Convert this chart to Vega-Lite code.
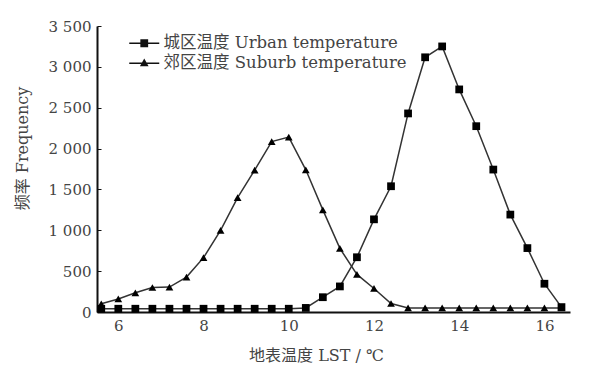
{
  "$schema": "https://vega.github.io/schema/vega-lite/v6.json",
  "width": 473,
  "height": 286,
  "autosize": "none",
  "padding": {"left": 97, "top": 26, "right": 34, "bottom": 58},
  "background": "white",
  "config": {
    "view": {"stroke": null},
    "font": "DejaVu Serif, Noto Sans CJK SC",
    "axis": {"labelFont": "DejaVu Serif, Noto Sans CJK SC", "titleFont": "DejaVu Serif, Noto Sans CJK SC", "labelColor": "#444", "titleColor": "#444", "titleFontWeight": "normal", "labelFontSize": 15, "titleFontSize": 16, "grid": false, "domainColor": "#111", "domainWidth": 2, "tickColor": "#111"},
    "legend": {"labelFont": "DejaVu Serif, Noto Sans CJK SC", "labelColor": "#444", "labelFontSize": 16.5, "labelLimit": 500}
  },
  "data": {"values": [
    {"t": 5.6, "series": "城区温度 Urban temperature", "f": 40},
    {"t": 6.0, "series": "城区温度 Urban temperature", "f": 40},
    {"t": 6.4, "series": "城区温度 Urban temperature", "f": 40},
    {"t": 6.8, "series": "城区温度 Urban temperature", "f": 40},
    {"t": 7.2, "series": "城区温度 Urban temperature", "f": 40},
    {"t": 7.6, "series": "城区温度 Urban temperature", "f": 40},
    {"t": 8.0, "series": "城区温度 Urban temperature", "f": 40},
    {"t": 8.4, "series": "城区温度 Urban temperature", "f": 40},
    {"t": 8.8, "series": "城区温度 Urban temperature", "f": 40},
    {"t": 9.2, "series": "城区温度 Urban temperature", "f": 40},
    {"t": 9.6, "series": "城区温度 Urban temperature", "f": 40},
    {"t": 10.0, "series": "城区温度 Urban temperature", "f": 40},
    {"t": 10.4, "series": "城区温度 Urban temperature", "f": 50},
    {"t": 10.8, "series": "城区温度 Urban temperature", "f": 181},
    {"t": 11.2, "series": "城区温度 Urban temperature", "f": 313},
    {"t": 11.6, "series": "城区温度 Urban temperature", "f": 670},
    {"t": 12.0, "series": "城区温度 Urban temperature", "f": 1134},
    {"t": 12.4, "series": "城区温度 Urban temperature", "f": 1539},
    {"t": 12.8, "series": "城区温度 Urban temperature", "f": 2430},
    {"t": 13.2, "series": "城区温度 Urban temperature", "f": 3117},
    {"t": 13.6, "series": "城区温度 Urban temperature", "f": 3250},
    {"t": 14.0, "series": "城区温度 Urban temperature", "f": 2724},
    {"t": 14.4, "series": "城区温度 Urban temperature", "f": 2274},
    {"t": 14.8, "series": "城区温度 Urban temperature", "f": 1743},
    {"t": 15.2, "series": "城区温度 Urban temperature", "f": 1192},
    {"t": 15.6, "series": "城区温度 Urban temperature", "f": 782},
    {"t": 16.0, "series": "城区温度 Urban temperature", "f": 346},
    {"t": 16.4, "series": "城区温度 Urban temperature", "f": 60},
    {"t": 5.6, "series": "郊区温度 Suburb temperature", "f": 100},
    {"t": 6.0, "series": "郊区温度 Suburb temperature", "f": 160},
    {"t": 6.4, "series": "郊区温度 Suburb temperature", "f": 235},
    {"t": 6.8, "series": "郊区温度 Suburb temperature", "f": 300},
    {"t": 7.2, "series": "郊区温度 Suburb temperature", "f": 305},
    {"t": 7.6, "series": "郊区温度 Suburb temperature", "f": 427},
    {"t": 8.0, "series": "郊区温度 Suburb temperature", "f": 665},
    {"t": 8.4, "series": "郊区温度 Suburb temperature", "f": 1000},
    {"t": 8.8, "series": "郊区温度 Suburb temperature", "f": 1400},
    {"t": 9.2, "series": "郊区温度 Suburb temperature", "f": 1735},
    {"t": 9.6, "series": "郊区温度 Suburb temperature", "f": 2085},
    {"t": 10.0, "series": "郊区温度 Suburb temperature", "f": 2140},
    {"t": 10.4, "series": "郊区温度 Suburb temperature", "f": 1740},
    {"t": 10.8, "series": "郊区温度 Suburb temperature", "f": 1250},
    {"t": 11.2, "series": "郊区温度 Suburb temperature", "f": 778},
    {"t": 11.6, "series": "郊区温度 Suburb temperature", "f": 460},
    {"t": 12.0, "series": "郊区温度 Suburb temperature", "f": 288},
    {"t": 12.4, "series": "郊区温度 Suburb temperature", "f": 104},
    {"t": 12.8, "series": "郊区温度 Suburb temperature", "f": 50},
    {"t": 13.2, "series": "郊区温度 Suburb temperature", "f": 50},
    {"t": 13.6, "series": "郊区温度 Suburb temperature", "f": 50},
    {"t": 14.0, "series": "郊区温度 Suburb temperature", "f": 50},
    {"t": 14.4, "series": "郊区温度 Suburb temperature", "f": 50},
    {"t": 14.8, "series": "郊区温度 Suburb temperature", "f": 50},
    {"t": 15.2, "series": "郊区温度 Suburb temperature", "f": 50},
    {"t": 15.6, "series": "郊区温度 Suburb temperature", "f": 50},
    {"t": 16.0, "series": "郊区温度 Suburb temperature", "f": 50},
    {"t": 16.4, "series": "郊区温度 Suburb temperature", "f": 50}
  ]},
  "encoding": {
    "x": {"field": "t", "type": "quantitative", "scale": {"domain": [5.5, 16.6], "nice": false, "zero": false},
      "axis": {"values": [6, 8, 10, 12, 14, 16], "title": "地表温度 LST / ℃", "tickSize": 0, "labelPadding": 6, "titlePadding": 14, "titleX": 219}},
    "y": {"field": "f", "type": "quantitative", "scale": {"domain": [0, 3500], "nice": false},
      "axis": {"values": [0, 500, 1000, 1500, 2000, 2500, 3000, 3500], "title": "频率 Frequency", "labelExpr": "replace(format(datum.value, ','), ',', ' ')", "tickSize": -4, "labelPadding": 10, "titlePadding": 18, "titleY": 122}}
  },
  "resolve": {"scale": {"shape": "independent"}, "legend": {"shape": "independent"}},
  "layer": [
    {"mark": {"type": "line", "color": "#333", "strokeWidth": 1.5}, "encoding": {"detail": {"field": "series"}}},
    {"mark": {"type": "point", "filled": true, "opacity": 1, "color": "#000"},
      "encoding": {
        "shape": {"field": "series", "type": "nominal",
          "scale": {"domain": ["城区温度 Urban temperature", "郊区温度 Suburb temperature"], "range": ["square", "triangle-up"]},
          "legend": null},
        "size": {"value": 60}
      }},
    {"mark": {"type": "point", "filled": true, "opacity": 0, "color": "#111"},
      "encoding": {
        "shape": {"field": "series", "type": "nominal",
          "scale": {"domain": ["城区温度 Urban temperature", "郊区温度 Suburb temperature"], "range": ["M-5,-0.25H5V0.25H-5ZM-1.3,-1.3H1.3V1.3H-1.3Z", "M-5,-0.25H5V0.25H-5ZM0,-1.6L1.45,1H-1.45Z"]},
          "legend": {"title": null, "orient": "none", "legendX": 39, "legendY": 9, "padding": 0, "symbolOpacity": 1, "symbolSize": 36, "labelOffset": 11, "rowPadding": 3}},
        "size": {"value": 36}
      }}
  ]
}
